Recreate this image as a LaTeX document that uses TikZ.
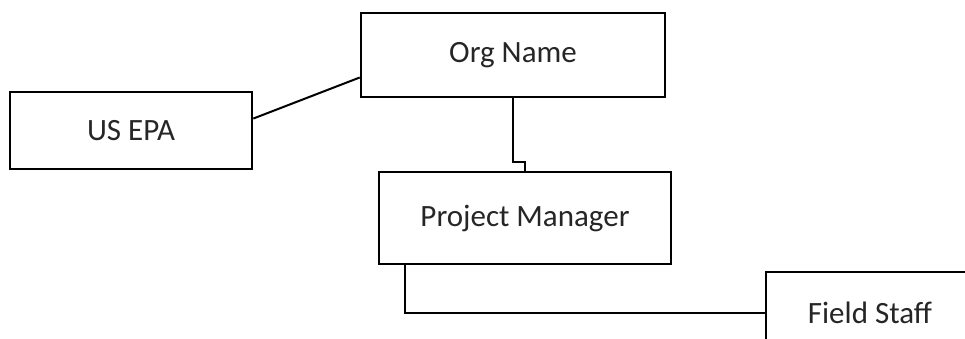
\documentclass[tikz,border=0pt]{standalone}
\usepackage{fontspec}
\setmainfont{Carlito}
\usetikzlibrary{calc}
\begin{document}
\begin{tikzpicture}[x=1pt,y=-1pt,
  box/.style={draw=black,line width=2.6pt,rectangle,fill=white,inner sep=0pt,
    font=\fontsize{31}{36}\selectfont,text=black!85},
  link/.style={draw=black,line width=2pt}]
\useasboundingbox (0,0) rectangle (965,339);
\clip (0,0) rectangle (965,339);
\fill[white] (0,0) rectangle (965,339);
\node[box,minimum width=304pt,minimum height=84pt] (org) at (513,55) {Org Name};
\node[box,minimum width=242pt,minimum height=77pt] (epa) at (131,130.5) {US EPA};
\node[box,minimum width=292pt,minimum height=92pt] (pm) at (525,218) {Project Manager};
\node[box,minimum width=208pt,minimum height=82pt] (fs) at (870,313) {Field Staff};
\draw[link] ($(epa.north east)!0.35!(epa.south east)$) -- ($(org.north west)!0.76!(org.south west)$);
\draw[link] (org.south) -- ++(0,64) -| (pm.north);
\draw[link] ($(pm.south west)+(27,0)$) |- (fs.west);
\end{tikzpicture}
\end{document}
